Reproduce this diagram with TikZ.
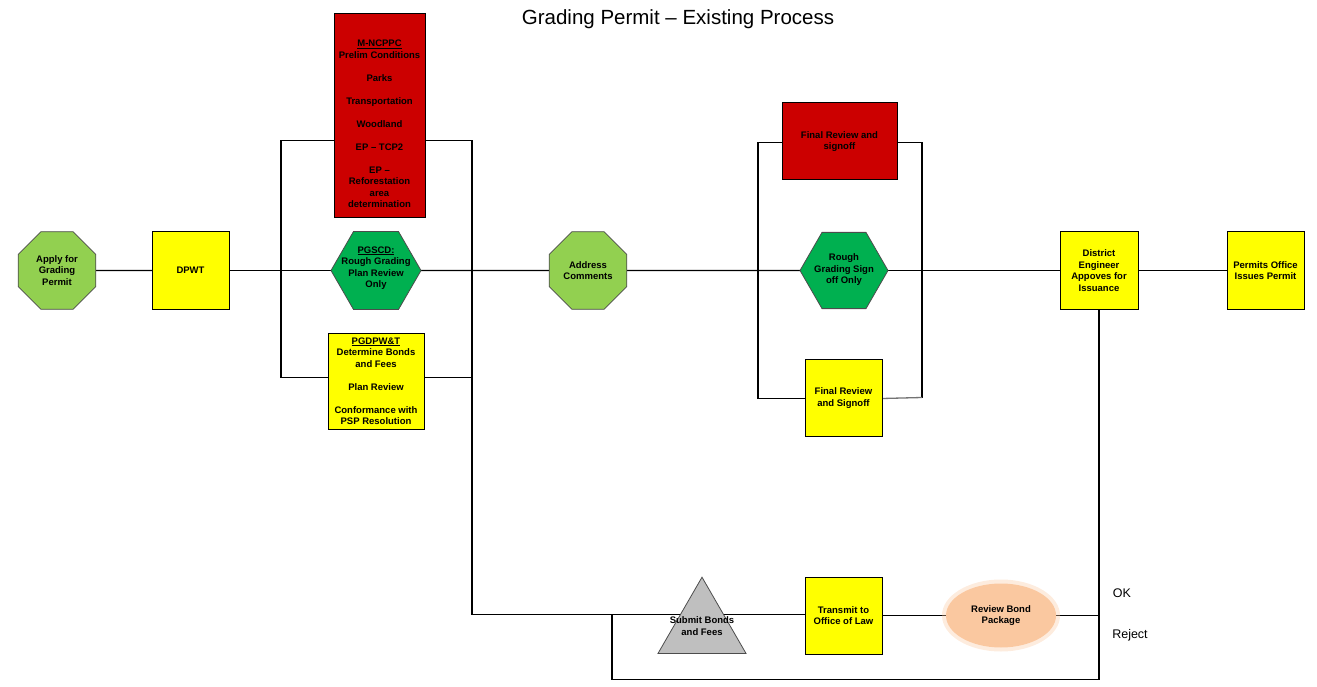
\documentclass[tikz,border=0pt]{standalone}
\usepackage{fontspec}
\setmainfont{Liberation Sans}
\usetikzlibrary{shapes.geometric,backgrounds}
\definecolor{procyellow}{RGB}{255,255,0}
\definecolor{procred}{RGB}{204,0,0}
\definecolor{startgreen}{RGB}{146,208,80}
\definecolor{signgreen}{RGB}{0,176,80}
\definecolor{bondgray}{RGB}{191,191,191}
\definecolor{peach}{RGB}{250,200,160}
\begin{document}
\begin{tikzpicture}[x=1pt,y={(0pt,-1pt)},
  every node/.style={font=\fontsize{9.5}{11.5}\selectfont\bfseries, align=center,
    inner sep=0pt, outer sep=0pt},
  conn/.style={line width=1.3pt, black},
  yel/.style={draw=black, line width=1pt, fill=procyellow,
    minimum width=77pt, minimum height=77pt},
  redbox/.style={draw=black, line width=1pt, fill=procred},
  octo/.style={regular polygon, regular polygon sides=8, minimum size=84pt,
    draw=black!70, line width=0.8pt, fill=startgreen},
  hexa/.style={regular polygon, regular polygon sides=6, minimum size=90pt,
    draw=black!70, line width=0.8pt, fill=signgreen},
  plain/.style={font=\fontsize{12.5}{14}\selectfont},
]
\useasboundingbox (0,0) rectangle (1317,687);

% title
\node[font=\fontsize{20.5}{24}\selectfont] (title) at (678,19) {Grading Permit -- Existing Process};

% upper process row
\node[octo] (apply) at (57,270.5) {Apply for\\Grading\\Permit};
\node[yel] (dpwt) at (190.5,270.5) {DPWT};

\node[redbox, minimum width=91pt, minimum height=204pt] (mncppc) at (379.5,116) {};
\node[anchor=north] (mtext) at (379.5,40) {\underline{M-NCPPC}\\Prelim Conditions\\[11.5pt]Parks\\[11.5pt]Transportation\\[11.5pt]Woodland\\[11.5pt]EP -- TCP2\\[11.5pt]EP --\\Reforestation\\area\\determination};

\node[hexa] (pgscd) at (376,270.5) {};
\node (pgscdtxt) at (376,268) {\underline{PGSCD:}\\Rough Grading\\Plan Review\\Only};
\node[yel, minimum width=96pt, minimum height=96pt] (pgdpwt) at (376,381)
  {\underline{PGDPW\&T}\\Determine Bonds\\and Fees\\[11.5pt]Plan Review\\[11.5pt]Conformance with\\PSP Resolution};

\node[octo] (addr) at (588,270.5) {Address\\Comments};

\node[redbox, minimum width=115pt, minimum height=77pt] (finred) at (839.5,141.5) {Final Review and\\signoff};
\node[hexa, minimum size=88pt] (rough) at (844,270.5) {};
\node (roughtxt) at (844,270) {Rough\\Grading Sign\\off Only};
\node[yel] (finyel) at (843.5,398) {Final Review\\and Signoff};

\node[yel, minimum width=78pt, minimum height=78pt] (deng) at (1099,270.5) {District\\Engineer\\Appoves for\\Issuance};
\node[yel] (permit) at (1265.5,270.5) {Permits Office\\Issues Permit};

% bond row
\node[regular polygon, regular polygon sides=3, minimum size=101.6pt,
  draw=black!70, line width=0.8pt, fill=bondgray] (bond) at (702,628) {};
\node (bondtxt) at (702,626) {Submit Bonds\\and Fees};
\node[yel] (xfer) at (843.5,615.5) {Transmit to\\Office of Law};
\fill[peach, opacity=0.35] (1001,615.5) ellipse (59pt and 36pt);
\node[ellipse, fill=peach, minimum width=110pt, minimum height=64pt] (rbond) at (1001,615.5) {Review Bond\\Package};

\node[plain] (ok) at (1122,593) {OK};
\node[plain] (reject) at (1130,635) {Reject};

% junction points
\coordinate (ja) at (281,140.5);
\coordinate (jab) at (281,377.5);
\coordinate (jb) at (472,140.5);
\coordinate (jbb) at (472,377.5);
\coordinate (jbd) at (472,614.5);
\coordinate (jc) at (612,614.5);
\coordinate (jcd) at (612,679.5);
\coordinate (jdd) at (1099,679.5);
\coordinate (jr) at (758,142.5);
\coordinate (jrb) at (758,398.5);
\coordinate (js) at (922,142.5);
\coordinate (jsb) at (922,397.5);

\begin{pgfonlayer}{background}
  % main line
  \draw[conn] (apply) -- (dpwt);
  \draw[conn] (dpwt) -- (pgscd);
  \draw[conn] (pgscd) -- (addr);
  \draw[conn] (addr) -- (rough);
  \draw[conn] (rough) -- (deng);
  \draw[conn] (deng) -- (permit);
  % first parallel review branch
  \draw[conn] (ja) -- (jab);
  \draw[conn] (ja) -- (ja -| mncppc.west);
  \draw[conn] (jb -| mncppc.east) -- (jb) -- (jbd) -- (jbd -| xfer.west);
  \draw[conn] (jab) -- (jab -| pgdpwt.west);
  \draw[conn] (jbb -| pgdpwt.east) -- (jbb);
  % second parallel review branch
  \draw[conn] (jr) -- (jrb);
  \draw[conn] (jr) -- (jr -| finred.west);
  \draw[conn] (js -| finred.east) -- (js) -- (jsb);
  \draw[conn] (jrb) -- (jrb -| finyel.west);
  \draw[line width=1.3pt, black!55] (finyel.east |- jrb) -- (jsb);
  % bond loop
  \draw[conn] (xfer) -- (rbond);
  \draw[conn] (rbond) -- (rbond -| deng);
  \draw[conn] (jc) -- (jcd) -- (jdd) -- (deng.south);
\end{pgfonlayer}
\end{tikzpicture}
\end{document}
